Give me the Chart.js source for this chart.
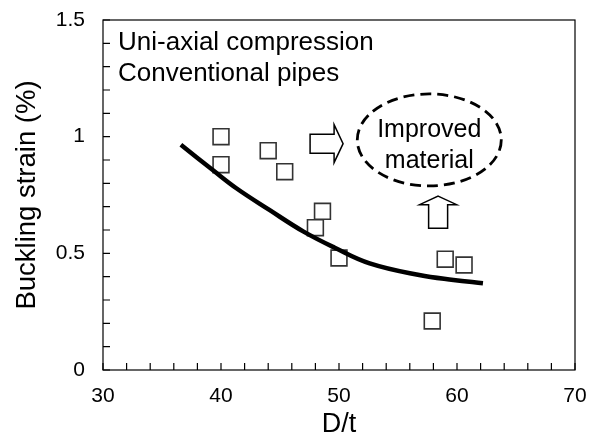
<!DOCTYPE html>
<html>
<head>
<meta charset="utf-8">
<script src="https://cdn.jsdelivr.net/npm/chart.js@4.4.0/dist/chart.umd.min.js"></script>
<style>
  html, body { margin: 0; padding: 0; background: #fff; }
  #wrap { width: 592px; height: 434px; }
</style>
</head>
<body>
<div id="wrap"><canvas id="buckle"></canvas></div>
<script>
// measured pipes (D/t vs buckling strain %)
const testDt = [40, 40, 44, 45.4, 48.6, 48, 50, 59, 60.6, 57.9];
const testStrain = [1.0, 0.88, 0.94, 0.85, 0.68, 0.61, 0.48, 0.475, 0.45, 0.21];

// design curve
const curveDt = [36.6, 39.3, 41.3, 44.1, 47, 49.6, 52.6, 56.8, 59.7, 62.2];
const curveStrain = [0.965, 0.857, 0.779, 0.686, 0.593, 0.525, 0.457, 0.407, 0.386, 0.372];

const xTicks = [30, 40, 50, 60, 70];
const yTicks = [0, 0.5, 1, 1.5];

const FONT = 'Liberation Sans, Arial, sans-serif';

const toPts = (xs, ys) => xs.map((x, i) => ({ x: x, y: ys[i] }));

// inward ticks, box frame, notes, arrows and the dashed ellipse
const extras = {
  id: 'extras',
  afterDraw(chart) {
    const c = chart.ctx;
    const xs = chart.scales.x, ys = chart.scales.y;
    const a = chart.chartArea;
    c.save();
    c.strokeStyle = '#000';
    c.lineWidth = 1.2;
    c.strokeRect(a.left, a.top, a.right - a.left, a.bottom - a.top);
    c.beginPath();
    xs.ticks.forEach(t => {
      const px = xs.getPixelForValue(t.value);
      c.moveTo(px, a.bottom);
      c.lineTo(px, a.bottom - 7);
    });
    ys.ticks.forEach(t => {
      const py = ys.getPixelForValue(t.value);
      c.moveTo(a.left, py);
      c.lineTo(a.left + 7, py);
    });
    c.stroke();

    // notes
    c.fillStyle = '#000';
    c.font = '26px ' + FONT;
    c.textAlign = 'left';
    c.textBaseline = 'alphabetic';
    c.fillText('Uni-axial compression', a.left + 15, 50);
    c.fillText('Conventional pipes', a.left + 15, 81);

    // dashed ellipse
    const ex = xs.getPixelForValue(57.65), ey = ys.getPixelForValue(0.986);
    c.setLineDash([11, 6]);
    c.lineWidth = 2.8;
    c.beginPath();
    c.ellipse(ex, ey, 72, 46, 0, 0, Math.PI * 2);
    c.stroke();
    c.setLineDash([]);
    c.textAlign = 'center';
    c.font = '25px ' + FONT;
    c.fillText('Improved', ex, ey - 3);
    c.fillText('material', ex, ey + 28);

    // right arrow
    const rx = xs.getPixelForValue(47.55), ry = ys.getPixelForValue(0.97);
    c.lineWidth = 1.5;
    c.beginPath();
    c.moveTo(rx, ry - 9.5);
    c.lineTo(rx + 24, ry - 9.5);
    c.lineTo(rx + 24, ry - 19);
    c.lineTo(rx + 33, ry);
    c.lineTo(rx + 24, ry + 19);
    c.lineTo(rx + 24, ry + 9.5);
    c.lineTo(rx, ry + 9.5);
    c.closePath();
    c.fillStyle = '#fff';
    c.fill();
    c.stroke();

    // up arrow
    const ux = xs.getPixelForValue(58.4), uy = ys.getPixelForValue(0.745);
    c.beginPath();
    c.moveTo(ux, uy);
    c.lineTo(ux + 18.5, uy + 8.5);
    c.lineTo(ux + 9.5, uy + 8.5);
    c.lineTo(ux + 9.5, uy + 32);
    c.lineTo(ux - 9.5, uy + 32);
    c.lineTo(ux - 9.5, uy + 8.5);
    c.lineTo(ux - 18.5, uy + 8.5);
    c.closePath();
    c.fill();
    c.stroke();
    c.restore();
  }
};

// invisible tick marks act as the label gap (ticks.padding would widen the plot margins)
const hiddenGrid = len => ({
  display: true,
  drawOnChartArea: false,
  drawTicks: true,
  tickLength: len,
  color: 'rgba(0,0,0,0)'
});

new Chart(document.getElementById('buckle'), {
  type: 'scatter',
  data: {
    datasets: [
      {
        label: 'Design curve',
        type: 'line',
        data: toPts(curveDt, curveStrain),
        borderColor: '#000',
        borderWidth: 4.5,
        pointRadius: 0,
        fill: false,
        tension: 0.4
      },
      {
        label: 'Test',
        data: toPts(testDt, testStrain),
        pointStyle: 'rect',
        pointRadius: 11.2,
        pointHoverRadius: 11.2,
        backgroundColor: 'rgba(255,255,255,0)',
        borderColor: '#333',
        borderWidth: 1.6
      }
    ]
  },
  options: {
    responsive: true,
    maintainAspectRatio: false,
    animation: false,
    layout: { padding: { top: 20, right: 17, left: 0, bottom: 0 } },
    plugins: {
      legend: { display: false },
      tooltip: { enabled: false }
    },
    scales: {
      x: {
        type: 'linear',
        min: 30,
        max: 70,
        grid: hiddenGrid(14),
        border: { display: false },
        ticks: {
          stepSize: 2,
          autoSkip: false,
          maxRotation: 0,
          padding: 0,
          color: '#000',
          font: { family: FONT, size: 21 },
          callback: v => xTicks.includes(v) ? String(v) : ''
        },
        title: {
          display: true,
          text: 'D/t',
          color: '#000',
          font: { family: FONT, size: 27 },
          padding: { top: 0, bottom: -7 }
        },
        afterFit: s => { s.height = 64; }
      },
      y: {
        min: 0,
        max: 1.5,
        grid: hiddenGrid(18),
        border: { display: false },
        ticks: {
          stepSize: 0.1,
          autoSkip: false,
          padding: 0,
          color: '#000',
          font: { family: FONT, size: 21 },
          callback: v => {
            const r = Math.round(v * 10) / 10;
            return yTicks.includes(r) ? String(r) : '';
          }
        },
        title: {
          display: true,
          text: 'Buckling strain (%)',
          color: '#000',
          font: { family: FONT, size: 27.5 },
          padding: { top: 11, bottom: 0 }
        },
        afterFit: s => { s.width = 103; }
      }
    }
  },
  plugins: [extras]
});
</script>
</body>
</html>
